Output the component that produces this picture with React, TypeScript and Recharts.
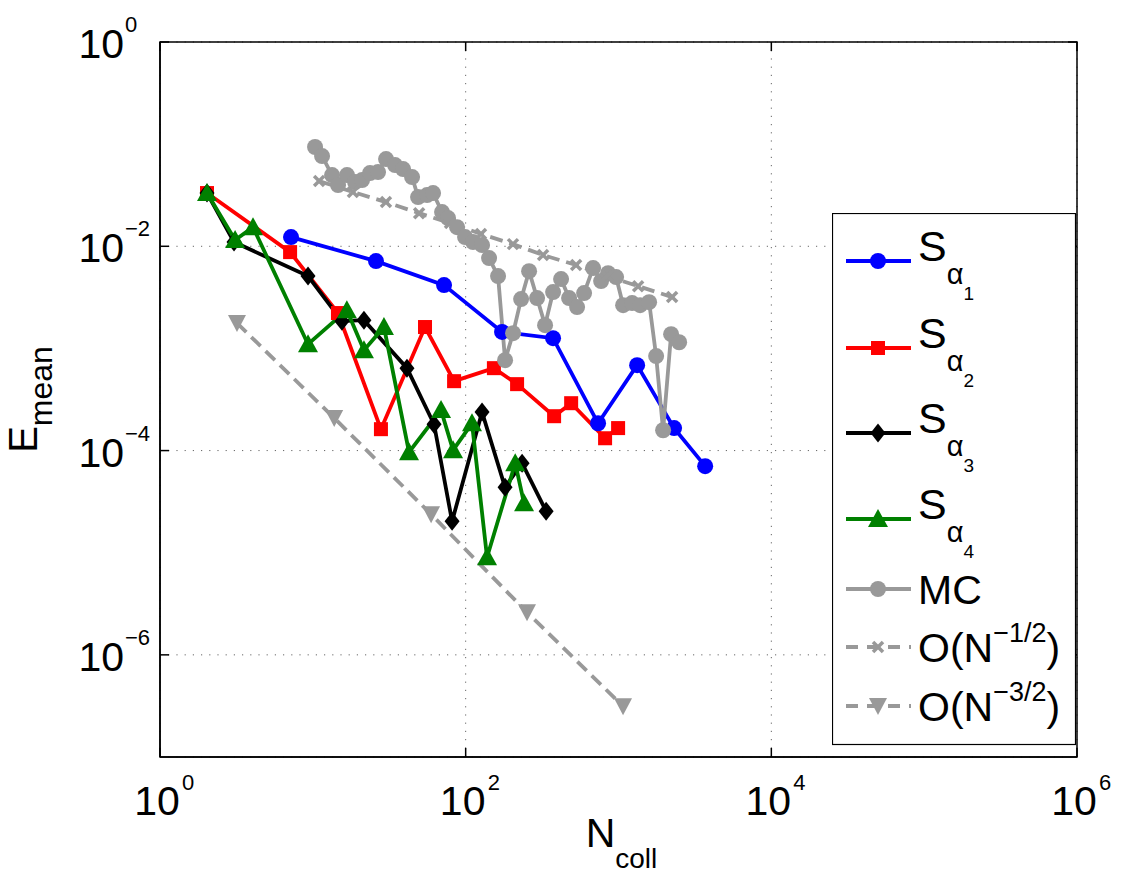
import React from 'react';
import { LineChart, Line, XAxis, YAxis, CartesianGrid, Legend, Label, ReferenceArea } from 'recharts';

const FONT = '"Liberation Sans", Arial, Helvetica, sans-serif';

// ---------------- data ----------------
const s1X = [7.2, 25.9, 72.2, 173, 373, 735, 1324, 2311, 3690];
const s1Y = [1.23e-2, 7.16e-3, 4.17e-3, 1.45e-3, 1.26e-3, 1.85e-4, 6.86e-4, 1.66e-4, 7.04e-5];

const s2X = [2.03, 7.1, 14.6, 27.9, 54.2, 84, 153, 217, 379, 490, 817, 994];
const s2Y = [3.32e-2, 8.77e-3, 2.22e-3, 1.62e-4, 1.62e-3, 4.78e-4, 6.41e-4, 4.47e-4, 2.17e-4, 2.91e-4, 1.32e-4, 1.66e-4];

const s3X = [2.03, 3.05, 9.3, 15.5, 21.6, 41.3, 62.1, 81.5, 128, 181, 234, 336];
const s3Y = [3.32e-2, 1.1e-2, 5.11e-3, 1.85e-3, 1.89e-3, 6.41e-4, 1.81e-4, 2.03e-5, 2.38e-4, 4.38e-5, 7.53e-5, 2.55e-5];

const s4X = [2.03, 3.1, 4.06, 9.3, 16.7, 21.6, 29.2, 42.6, 69, 82.7, 110, 138, 211, 241];
const s4Y = [3.32e-2, 1.15e-2, 1.54e-2, 1.1e-3, 2.37e-3, 9.62e-4, 1.62e-3, 9.64e-5, 2.49e-4, 1.01e-4, 1.85e-4, 9.03e-6, 7.53e-5, 3.05e-5];

const mcX = [10.34, 11.49, 13.36, 14.62, 16.74, 18.89, 20.99, 23.67, 26.71, 30.14, 34.51, 38.94, 44.6, 48.82, 55.9, 61.18, 70.06, 76.7, 87.82, 99.1, 111.8, 128, 142.3, 162.9, 181.1, 204.3, 230.5, 260, 293.3, 330.8, 373.3, 421, 475, 535.9, 595.5, 682.1, 769.4, 855, 964.5, 1072, 1227, 1385, 1586, 1763, 1958, 2209, 2493];
const mcY = [0.0937, 0.0764, 0.0498, 0.0398, 0.0498, 0.0425, 0.0445, 0.0521, 0.0533, 0.0714, 0.0624, 0.057, 0.0476, 0.0303, 0.0317, 0.0332, 0.0216, 0.0189, 0.0154, 0.0123, 0.011, 0.01027, 0.00766, 0.00511, 0.000768, 0.00141, 0.00304, 0.00571, 0.00311, 0.00169, 0.00356, 0.00477, 0.00311, 0.00254, 0.00348, 0.00612, 0.00456, 0.00546, 0.00499, 0.00265, 0.00278, 0.00265, 0.00284, 0.000841, 0.000158, 0.00138, 0.00115];

const oHalfX = [10.99, 18.3, 30.1, 49.6, 79, 126, 204, 321, 528, 842, 1344, 2243];
const oHalfY = [4.35e-2, 3.4e-2, 2.71e-2, 2.11e-2, 1.69e-2, 1.32e-2, 1.05e-2, 8.2e-3, 6.55e-3, 5.11e-3, 4.07e-3, 3.18e-3];

const oThreeHalfX = [3.19, 13.8, 59.4, 252, 1071];
const oThreeHalfY = [1.77e-3, 2.08e-4, 2.38e-5, 2.61e-6, 3.14e-7];

const xTicks = [1, 1e2, 1e4, 1e6];
const yTicks = [1e-6, 1e-4, 1e-2, 1];
const xDomain = [1, 1e6];
const yDomain = [1e-7, 1];

// layout constants
const CHART_W = 1125;
const CHART_H = 878;
const MARGIN = { top: 42, right: 48, bottom: 0, left: 0 };
const PLOT_TOP = MARGIN.top;
const PLOT_RIGHT = CHART_W - MARGIN.right;

const zip = (xs: number[], ys: number[]) => xs.map((x, i) => ({ x, y: ys[i] }));

type Shape = 'circle' | 'square' | 'diamond' | 'triangle' | 'tridown' | 'cross';

interface Series {
  key: string;
  data: { x: number; y: number }[];
  color: string;
  shape: Shape;
  dash?: string;
}

function marker(shape: Shape, color: string, cx: number, cy: number, key?: string) {
  switch (shape) {
    case 'circle':
      return <circle key={key} cx={cx} cy={cy} r={8} fill={color} />;
    case 'square':
      return <rect key={key} x={cx - 7} y={cy - 7} width={14} height={14} fill={color} />;
    case 'diamond':
      return <polygon key={key} points={`${cx},${cy - 9.5} ${cx + 7.5},${cy} ${cx},${cy + 9.5} ${cx - 7.5},${cy}`} fill={color} />;
    case 'triangle':
      return <polygon key={key} points={`${cx},${cy - 10} ${cx + 10},${cy + 8} ${cx - 10},${cy + 8}`} fill={color} />;
    case 'tridown':
      return <polygon key={key} points={`${cx - 9},${cy - 8} ${cx + 9},${cy - 8} ${cx},${cy + 9}`} fill={color} />;
    case 'cross':
      return (
        <g key={key} stroke={color} strokeWidth={3.5}>
          <line x1={cx - 5} y1={cy - 5} x2={cx + 5} y2={cy + 5} />
          <line x1={cx - 5} y1={cy + 5} x2={cx + 5} y2={cy - 5} />
        </g>
      );
  }
  return null;
}

const SERIES: Series[] = [
  { key: 's1', data: zip(s1X, s1Y), color: '#0000ff', shape: 'circle' },
  { key: 's2', data: zip(s2X, s2Y), color: '#ff0000', shape: 'square' },
  { key: 's3', data: zip(s3X, s3Y), color: '#000000', shape: 'diamond' },
  { key: 's4', data: zip(s4X, s4Y), color: '#008000', shape: 'triangle' },
  { key: 'mc', data: zip(mcX, mcY), color: '#999999', shape: 'circle' },
  { key: 'oh', data: zip(oHalfX, oHalfY), color: '#999999', shape: 'cross', dash: '13 7' },
  { key: 'o3', data: zip(oThreeHalfX, oThreeHalfY), color: '#999999', shape: 'tridown', dash: '13 7' },
];

const legendSubscripts = ['1', '2', '3', '4'];
const legendRowY = [48, 135, 220, 306, 376, 434, 493];

const LegendBox = () => (
  <svg width={245} height={533} style={{ display: 'block' }}>
    <rect x={0.5} y={0.5} width={243} height={531} fill="#fff" stroke="#000" strokeWidth={1.2} />
    {SERIES.map((s, i) => {
      const ly = legendRowY[i];
      let text: React.ReactNode;
      if (i < 4) {
        text = (
          <text x={86} y={ly} fontFamily={FONT} fill="#000">
            <tspan fontSize={43}>S</tspan>
            <tspan fontSize={29} dy={23}>α</tspan>
            <tspan fontSize={19} dy={16}>{legendSubscripts[i]}</tspan>
          </text>
        );
      } else if (s.key === 'mc') {
        text = (
          <text x={86} y={ly + 15} fontFamily={FONT} fontSize={41} fill="#000">MC</text>
        );
      } else {
        const sup = s.key === 'oh' ? '\u22121/2' : '\u22123/2';
        text = (
          <text x={86} y={ly + 15} fontFamily={FONT} fontSize={41} fill="#000">
            O(N
            <tspan fontSize={27} dy={-20}>{sup}</tspan>
            <tspan fontSize={41} dy={20}>)</tspan>
          </text>
        );
      }
      return (
        <g key={s.key}>
          <line x1={14} x2={79} y1={ly} y2={ly} stroke={s.color} strokeWidth={3.8} strokeDasharray={s.dash ? '12 9' : undefined} />
          {marker(s.shape, s.color, 46, ly)}
          {text}
        </g>
      );
    })}
  </svg>
);

const supText = (v: number) => {
  const e = Math.round(Math.log10(v));
  return e < 0 ? `\u2212${-e}` : `${e}`;
};

const YTickLeft = (props: any) => {
  const { x, y, payload } = props;
  return (
    <g>
      <line x1={x} x2={x + 9} y1={y} y2={y} stroke="#000" strokeWidth={1.5} />
      <line x1={PLOT_RIGHT} x2={PLOT_RIGHT - 9} y1={y} y2={y} stroke="#000" strokeWidth={1.5} />
      <text x={x - 36} y={y + 16} textAnchor="end" fontSize={41} fontFamily={FONT} fill="#000">10</text>
      <text x={x - 35} y={y - 10} textAnchor="start" fontSize={22} fontFamily={FONT} fill="#000">{supText(payload.value)}</text>
    </g>
  );
};

const XTickBottom = (props: any) => {
  const { x, y, payload } = props;
  return (
    <g>
      <line x1={x} x2={x} y1={y} y2={y - 9} stroke="#000" strokeWidth={1.5} />
      <line x1={x} x2={x} y1={PLOT_TOP} y2={PLOT_TOP + 9} stroke="#000" strokeWidth={1.5} />
      <text x={x - 3} y={y + 58} textAnchor="middle" fontSize={41} fontFamily={FONT} fill="#000">10</text>
      <text x={x + 22} y={y + 33} textAnchor="start" fontSize={22} fontFamily={FONT} fill="#000">{supText(payload.value)}</text>
    </g>
  );
};

const XTitle = (props: any) => {
  const vb = props.viewBox || { x: 160, y: 757, width: 917 };
  const cx = vb.x + vb.width / 2 + 3;
  return (
    <text x={cx} y={vb.y + 90} textAnchor="middle" fontFamily={FONT} fill="#000">
      <tspan fontSize={41}>N</tspan>
      <tspan fontSize={28} dy={21}>coll</tspan>
    </text>
  );
};

const YTitle = (props: any) => {
  const vb = props.viewBox || { x: 0, y: 42, height: 715 };
  const cy = vb.y + vb.height / 2;
  const tx = vb.x + 37;
  return (
    <text x={tx} y={cy} textAnchor="middle" fontFamily={FONT} fill="#000" transform={`rotate(-90, ${tx}, ${cy})`}>
      <tspan fontSize={40}>E</tspan>
      <tspan fontSize={32} dy={15}>mean</tspan>
    </text>
  );
};

export default function App() {
  return (
    <div style={{ position: 'absolute', left: 0, top: 0, width: CHART_W, height: CHART_H, background: '#fff' }}>
      <LineChart width={CHART_W} height={CHART_H} margin={MARGIN}>
        <CartesianGrid stroke="#666" strokeWidth={1} strokeDasharray="1.2 7" />
        <XAxis
          dataKey="x"
          type="number"
          scale="log"
          domain={xDomain}
          ticks={xTicks}
          allowDataOverflow
          height={121}
          tickSize={0}
          tickMargin={0}
          tickLine={false}
          axisLine={{ stroke: '#000', strokeWidth: 1.5 }}
          tick={XTickBottom}
          interval={0}
        >
          <Label content={XTitle} />
        </XAxis>
        <YAxis
          type="number"
          scale="log"
          domain={yDomain}
          ticks={yTicks}
          allowDataOverflow
          width={160}
          tickSize={0}
          tickMargin={0}
          tickLine={false}
          axisLine={{ stroke: '#000', strokeWidth: 1.5 }}
          tick={YTickLeft}
          interval={0}
        >
          <Label content={YTitle} />
        </YAxis>
        <ReferenceArea
          x1={xDomain[0]}
          x2={xDomain[1]}
          y1={yDomain[0]}
          y2={yDomain[1]}
          fill="none"
          fillOpacity={0}
          stroke="#000"
          strokeWidth={1.5}
          ifOverflow="visible"
        />
        {SERIES.map((s) => (
          <Line
            key={s.key}
            data={s.data}
            dataKey="y"
            type="linear"
            stroke={s.color}
            strokeWidth={3.8}
            strokeDasharray={s.dash}
            isAnimationActive={false}
            legendType="none"
            dot={(p: any) => marker(s.shape, s.color, p.cx, p.cy, `${s.key}-${p.index}`) as any}
            activeDot={false}
          />
        ))}
        <Legend
          layout="vertical"
          align="center"
          verticalAlign="middle"
          content={() => <LegendBox />}
          wrapperStyle={{ position: 'absolute', left: 832, top: 213, width: 245, height: 533, margin: 0, padding: 0 }}
        />
      </LineChart>
    </div>
  );
}
